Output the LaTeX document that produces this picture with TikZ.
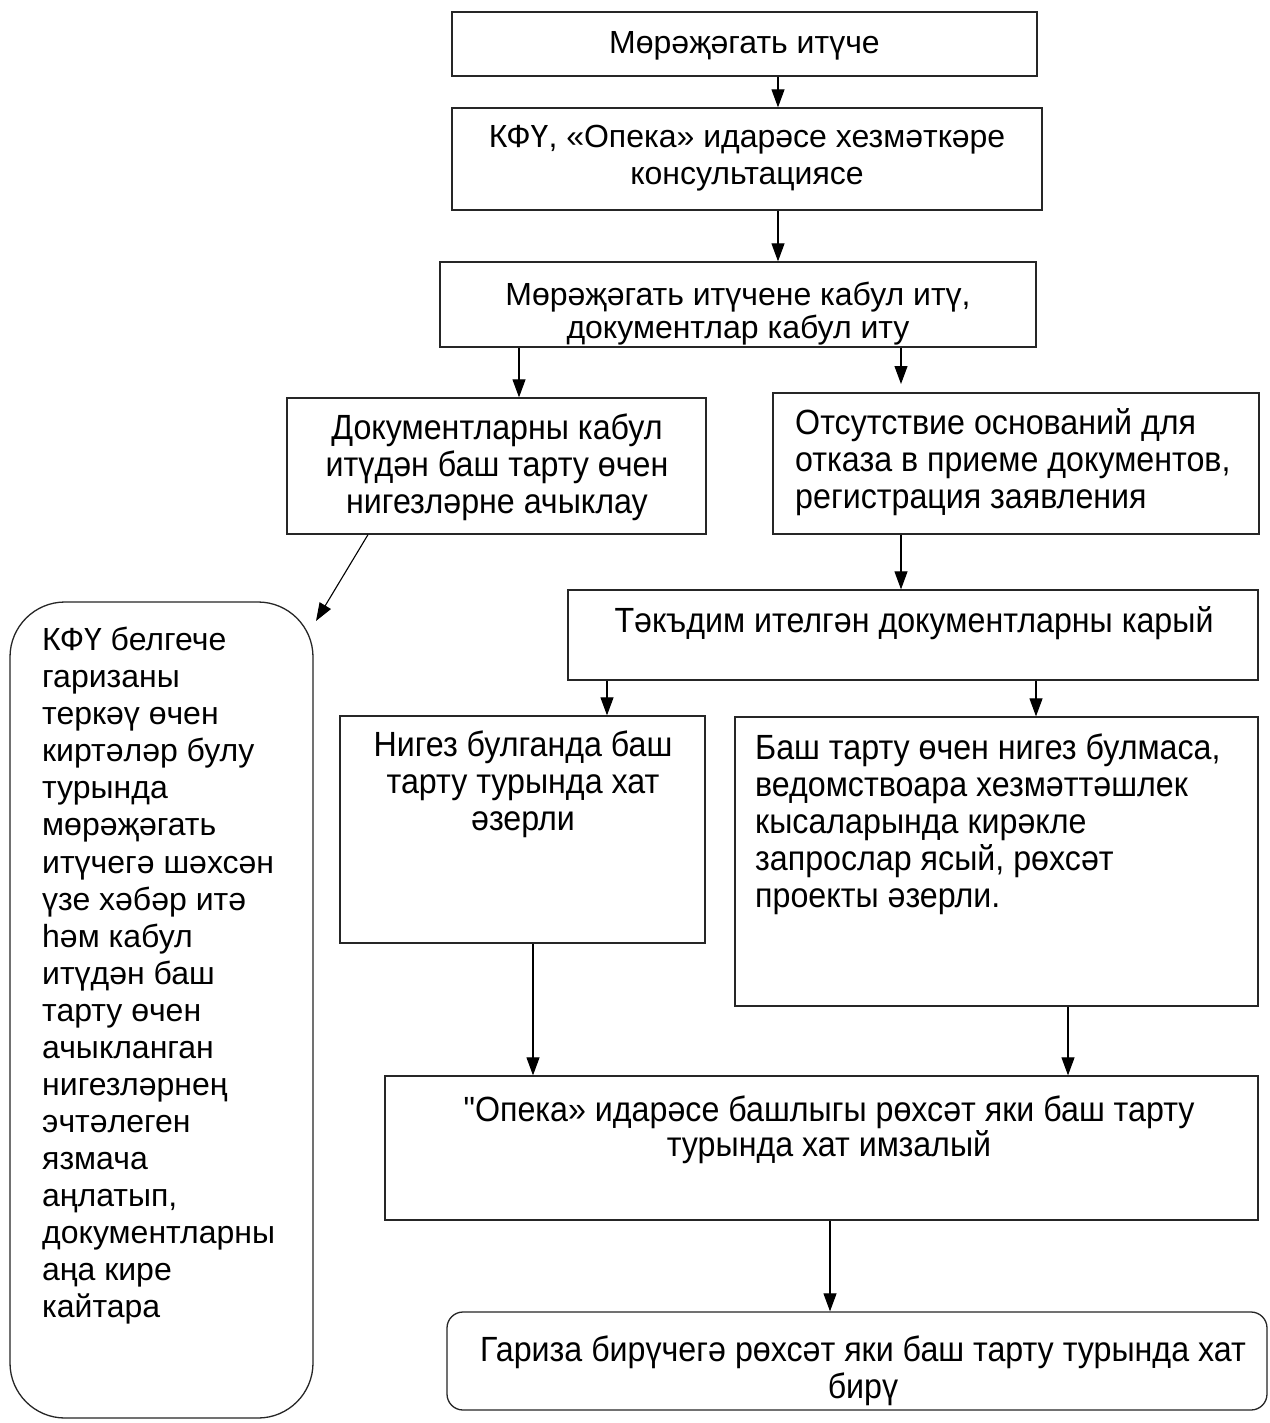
\documentclass[tikz,border=0pt]{standalone}
\usepackage{fontspec}
\setmainfont{Liberation Sans}
\newfontfamily\narrowfont[FakeStretch=0.92]{Liberation Sans}
\usetikzlibrary{arrows.meta}
\begin{document}
\begin{tikzpicture}[x=1pt,y=-1pt,
 box/.style={draw=black!85, line width=1.3pt, inner sep=0pt},
 reg/.style={font=\fontsize{32}{37}\selectfont, inner sep=0pt},
 nar/.style={font=\narrowfont\fontsize{35}{37}\selectfont, inner sep=0pt},
 arr/.style={line width=1.1pt, -{Triangle[length=18pt,width=13pt]}},
 ln/.style={line width=1.1pt}]
\useasboundingbox[fill=white] (0,0) rectangle (1269,1423);

% boxes
\node[box, minimum width=585, minimum height=64] (b1) at (744.5,44) {};
\node[box, minimum width=590, minimum height=102] (b2) at (747,159) {};
\node[box, minimum width=596, minimum height=85] (b3) at (738,304.5) {};
\node[box, minimum width=419, minimum height=136] (b4L) at (496.5,466) {};
\node[box, minimum width=486, minimum height=141] (b4R) at (1016,463.5) {};
\node[box, rounded corners=55pt, minimum width=303, minimum height=816] (rL) at (161.5,1010) {};
\node[box, minimum width=690, minimum height=90] (bT) at (913,635) {};
\node[box, minimum width=365, minimum height=227] (bN) at (522.5,829.5) {};
\node[box, minimum width=523, minimum height=289] (bB) at (996.5,861.5) {};
\node[box, minimum width=873, minimum height=144] (bO) at (821.5,1148) {};
\node[box, rounded corners=16pt, minimum width=820, minimum height=98] (bG) at (857,1361) {};

% texts
\node[reg, anchor=north] at (744.5,31) {Мөрәҗәгать итүче};
\node[reg, anchor=north, align=center] at (747,125) {КФҮ, «Опека» идарәсе хезмәткәре\\консультациясе};
\node[reg, anchor=north, align=center, font=\fontsize{32}{33}\selectfont] at (738,282) {Мөрәҗәгать итүчене кабул итү,\\документлар кабул иту};
\node[nar, anchor=north, align=center] at (497,414) {Документларны кабул\\итүдән баш тарту өчен\\нигезләрне ачыклау};
\node[nar, anchor=north west, align=left] at (795,408) {Отсутствие оснований для\\отказа в приеме документов,\\регистрация заявления};
\node[reg, anchor=north west, align=left, font=\fontsize{32}{37.06}\selectfont] at (42,627) {КФҮ белгече\\гаризаны\\теркәү өчен\\киртәләр булу\\турында\\мөрәҗәгать\\итүчегә шәхсән\\үзе хәбәр итә\\һәм кабул\\итүдән баш\\тарту өчен\\ачыкланган\\нигезләрнең\\эчтәлеген\\язмача\\аңлатып,\\документларны\\аңа кире\\кайтара};
\node[nar, anchor=north] at (914,606) {Тәкъдим ителгән документларны карый};
\node[nar, anchor=north, align=center] at (523,731) {Нигез булганда баш\\тарту турында хат\\әзерли};
\node[nar, anchor=north west, align=left] at (755,734) {Баш тарту өчен нигез булмаса,\\ведомствоара хезмәттәшлек\\кысаларында кирәкле\\запрослар ясый, рөхсәт\\проекты әзерли.};
\node[nar, anchor=north, align=center, font=\narrowfont\fontsize{35}{35}\selectfont] at (829,1096) {"Опека» идарәсе башлыгы рөхсәт яки баш тарту\\турында хат имзалый};
\node[nar, anchor=north, align=center] at (863,1336) {Гариза бирүчегә рөхсәт яки баш тарту турында хат\\бирү};

% connectors
\coordinate (tipL) at (316,621);
\draw[arr] (b1.south -| 778,0) -- (b2.north -| 778,0);
\draw[arr] (b2.south -| 778,0) -- (b3.north -| 778,0);
\draw[arr] (b3.south -| 519,0) -- (b4L.north -| 519,0);
\draw[arr] (b3.south -| 901,0) -- (901,384);
\draw[arr] (b4L.south -| 368,0) -- (tipL);
\draw[arr] (b4R.south -| 901,0) -- (bT.north -| 901,0);
\draw[arr] (bT.south -| 607,0) -- (bN.north -| 607,0);
\draw[arr] (bT.south -| 1036,0) -- (bB.north -| 1036,0);
\draw[arr] (bN.south -| 533,0) -- (bO.north -| 533,0);
\draw[arr] (bB.south -| 1068,0) -- (bO.north -| 1068,0);
\draw[arr] (bO.south -| 830,0) -- (bG.north -| 830,0);
\end{tikzpicture}
\end{document}
